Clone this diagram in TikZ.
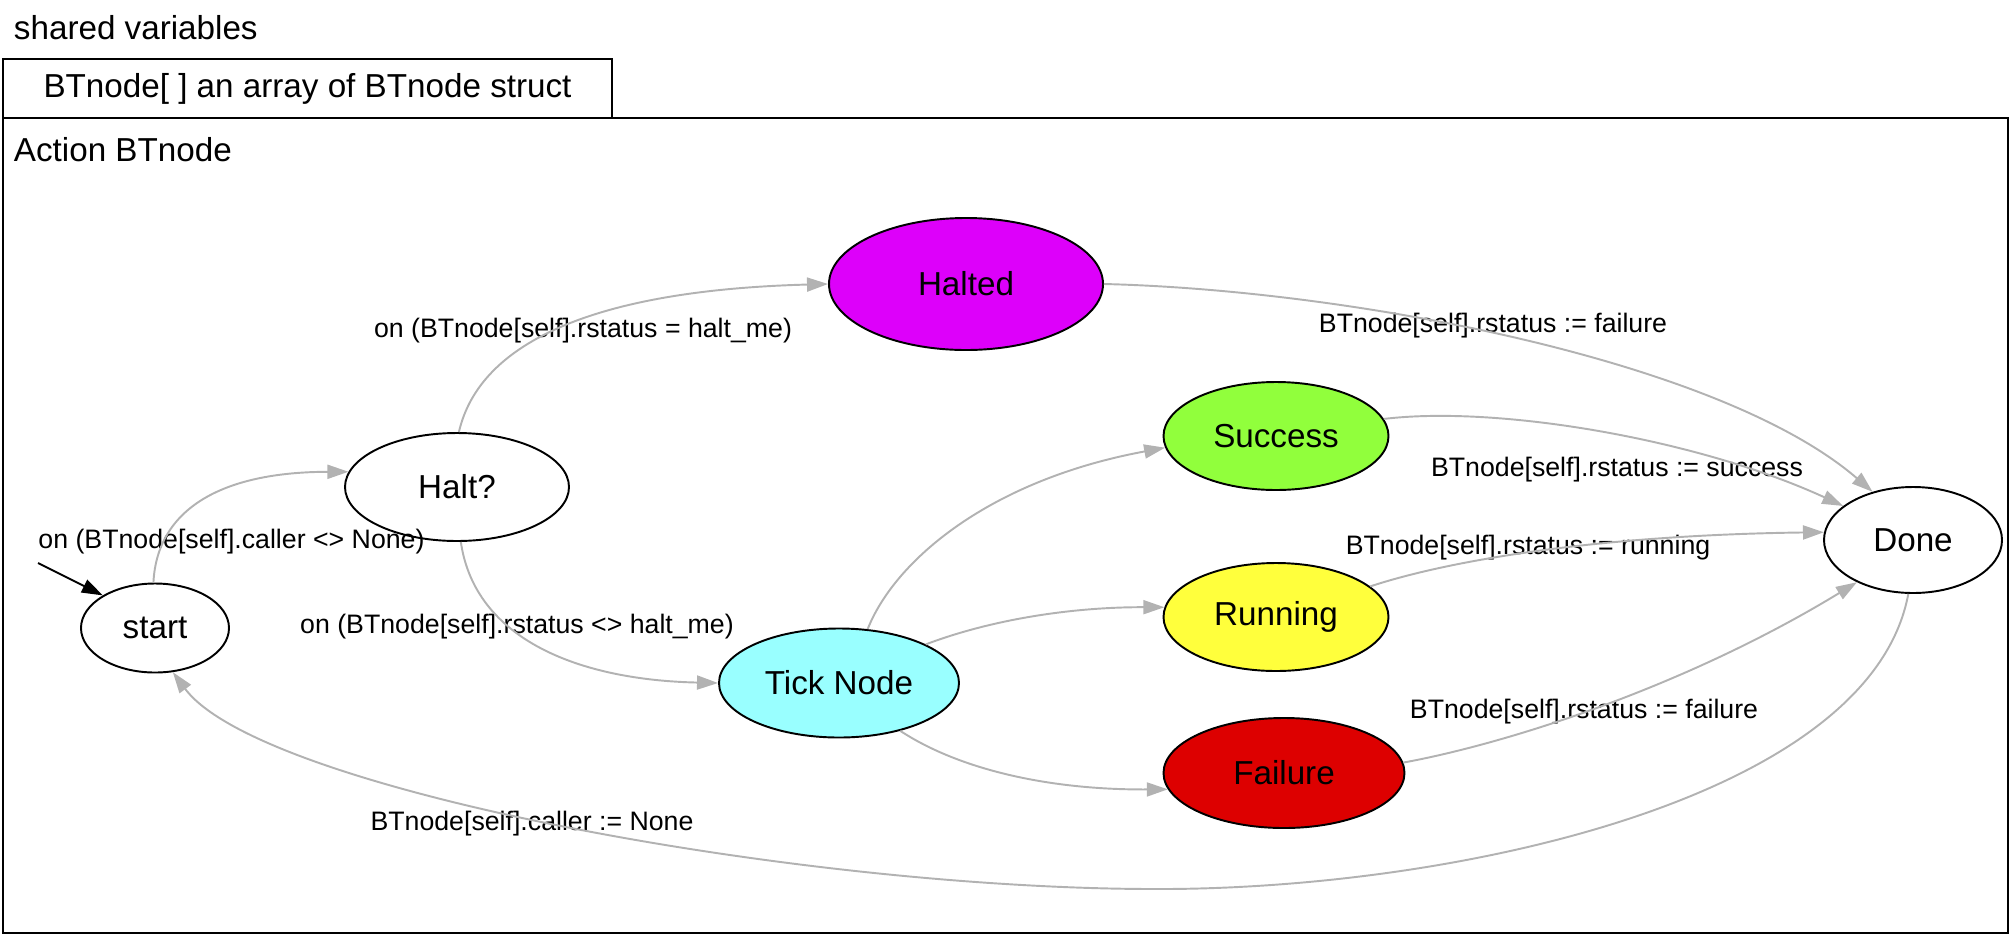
\documentclass[tikz,border=0pt]{standalone}
\usepackage{fontspec}
\setmainfont{Liberation Sans}
\usepackage{xcolor}
\usepackage{tikz}
\usetikzlibrary{arrows.meta, shapes, positioning}

\definecolor{edgegray}{RGB}{178,178,178}
\definecolor{haltedcol}{RGB}{221,0,250}
\definecolor{succcol}{RGB}{145,255,60}
\definecolor{runcol}{RGB}{255,255,60}
\definecolor{failcol}{RGB}{221,0,0}
\definecolor{tickcol}{RGB}{153,255,255}

\begin{document}
\begin{tikzpicture}[
    % GLOBAL CFG
    font=\fontsize{15.2}{18}\selectfont,
    >={Triangle[length=0.42cm, width=0.28cm]},
    line width=1.1pt,
    % Styles
    state/.style={% For the states
        ellipse,
        draw,
        inner sep=0pt,
        font=\fontsize{18.9}{22}\selectfont,
        },
    cluster/.style={% For the boxes
        rectangle,
        draw,
        inner sep=0pt,
        font=\fontsize{18.9}{22}\selectfont,
        },
    title/.style={% For box titles
        anchor=west,
        inner sep=0pt,
        font=\fontsize{18.9}{22}\selectfont,
        },
    trans/.style={% For transitions
        ->,
        draw=edgegray,
        },
    elabel/.style={% For transition labels
        inner sep=0pt,
        },
    ]

\useasboundingbox (0,0) rectangle (40.24,-18.7);

%Start drawing the thing...
    % Draw the boxes
    \node [cluster, minimum width=40.10cm, minimum height=16.30cm] (action) at (20.11,-10.51) {};
    \node [cluster, minimum width=12.18cm, minimum height=1.18cm] (array) at (6.15,-1.77) {BTnode[ ] an array of BTnode struct};
    \node [title] (shared) at (0.26,-0.56) {shared variables};
    \node [title] (actitle) at (0.26,-3.0) {Action BTnode};

    % Draw states
    \node [state, minimum width=2.96cm, minimum height=1.78cm] (start) at (3.10,-12.56) {start};
    \node [state, minimum width=4.48cm, minimum height=2.16cm] (halt) at (9.14,-9.74) {Halt?};
    \node [state, minimum width=5.48cm, minimum height=2.64cm, fill=haltedcol] (halted) at (19.32,-5.68) {Halted};
    \node [state, minimum width=4.80cm, minimum height=2.18cm, fill=tickcol] (tick) at (16.78,-13.66) {Tick Node};
    \node [state, minimum width=4.50cm, minimum height=2.16cm, fill=succcol] (succ) at (25.52,-8.72) {Success};
    \node [state, minimum width=4.50cm, minimum height=2.16cm, fill=runcol] (run) at (25.52,-12.34) {Running};
    \node [state, minimum width=4.82cm, minimum height=2.20cm, fill=failcol] (fail) at (25.68,-15.46) {Failure};
    \node [state, minimum width=3.56cm, minimum height=2.12cm] (done) at (38.26,-10.80) {Done};

    % Draw labels named lbl#
    \node [elabel] (lbl1) at (4.63,-10.84) {on (BTnode[self].caller <> None)};
    \node [elabel] (lbl2) at (11.66,-6.62) {on (BTnode[self].rstatus = halt\_me)};
    \node [elabel] (lbl3) at (10.34,-12.54) {on (BTnode[self].rstatus <> halt\_me)};
    \node [elabel] (lbl4) at (29.86,-6.52) {BTnode[self].rstatus := failure};
    \node [elabel] (lbl5) at (32.34,-9.40) {BTnode[self].rstatus := success};
    \node [elabel] (lbl6) at (30.56,-10.96) {BTnode[self].rstatus := running};
    \node [elabel] (lbl7) at (31.68,-14.24) {BTnode[self].rstatus := failure};
    \node [elabel] (lbl8) at (10.64,-16.48) {BTnode[self].caller := None};

    \coordinate (init) at (0.76,-11.26);
    \coordinate (low) at (23.10,-17.78);

    % Start connecting all.
    \draw [->] (init) -- (start.148);
    \draw [trans] (start.92) .. controls (3.14,-10.20) and (4.40,-9.44) .. (halt.172);
    \draw [trans] (halt.88) .. controls (9.60,-6.80) and (12.0,-5.80) .. (halted.west);
    \draw [trans] (halt.-86) .. controls (9.50,-12.80) and (11.60,-13.60) .. (tick.west);

    % Ticking
    \draw [trans] (tick.62) .. controls (17.90,-11.20) and (19.80,-9.60) .. (succ.186);
    \draw [trans] (tick.24) .. controls (19.80,-12.40) and (21.40,-12.14) .. (run.175);
    \draw [trans] (tick.-38) .. controls (19.20,-15.40) and (21.00,-15.80) .. (fail.188);

    % Into done
    \draw [trans] (halted.east) .. controls (27.0,-5.80) and (34.40,-7.20) .. (done.130);
    \draw [trans] (succ.9) .. controls (30.0,-8.10) and (34.0,-8.80) .. (done.154);
    \draw [trans] (run.18) .. controls (29.0,-11.20) and (32.0,-10.70) .. (done.175);
    \draw [trans] (fail.5) .. controls (30.0,-14.90) and (33.60,-13.80) .. (done.-143);

    % Back to start
    \draw [trans] (done.-95) .. controls (37.40,-16.0) and (29.0,-17.80) .. (low)
        .. controls (16.0,-17.78) and (5.20,-15.80) .. (start.-68);

\end{tikzpicture}
\end{document}
